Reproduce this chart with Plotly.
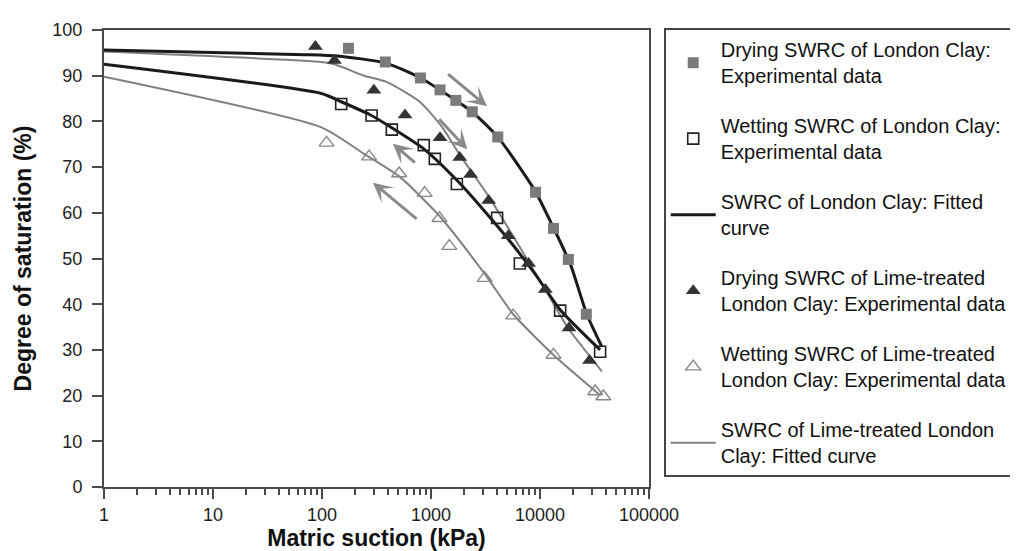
import numpy as np
import plotly.graph_objects as go

# ---------------- data ----------------
dry_lc_x = [175, 381, 800, 1210, 1690, 2390, 4100, 9100, 13300, 18200, 26600]
dry_lc_y = [96.0, 93.0, 89.5, 86.9, 84.6, 82.1, 76.6, 64.5, 56.6, 49.8, 37.8]

wet_lc_x = [150, 285, 437, 858, 1084, 1727, 4040, 6530, 15300, 35600]
wet_lc_y = [83.8, 81.3, 78.2, 74.8, 71.8, 66.3, 58.9, 48.9, 38.6, 29.6]

dry_lime_x = [87, 130, 299, 578, 1210, 1835, 2306, 3380, 5120, 7860, 11190, 18440, 28500]
dry_lime_y = [96.4, 93.3, 86.8, 81.4, 76.4, 72.1, 68.4, 62.7, 55.0, 48.9, 43.2, 34.8, 27.7]

wet_lime_x = [110, 270, 510, 875, 1196, 1473, 3110, 5680, 13300, 32100, 38100]
wet_lime_y = [75.3, 72.3, 68.6, 64.3, 58.8, 52.7, 45.7, 37.5, 28.9, 20.9, 19.8]

fit_dry_lc_x = [1, 70, 138, 381, 788, 1690, 2390, 4160, 8900, 13500, 19100, 26900, 36900]
fit_dry_lc_y = [95.6, 94.6, 94.3, 92.8, 89.6, 84.6, 82.1, 76.4, 65.0, 56.4, 48.6, 37.8, 30.7]

fit_wet_lc_x = [1, 99, 150, 279, 437, 858, 1750, 2940, 5120, 8900, 15300, 35600]
fit_wet_lc_y = [92.5, 86.1, 84.3, 81.4, 78.6, 74.0, 67.0, 61.0, 54.2, 46.8, 38.8, 30.0]

fit_dry_lime_x = [1, 99, 130, 244, 394, 788, 1280, 1811, 3380, 5870, 8900, 11190, 17800, 36900]
fit_dry_lime_y = [95.3, 93.0, 92.5, 90.0, 88.6, 84.3, 78.6, 72.9, 63.6, 54.3, 47.1, 43.2, 35.0, 25.3]

fit_wet_lime_x = [1, 99, 243, 520, 1196, 3160, 5680, 13300, 35600]
fit_wet_lime_y = [89.8, 78.7, 72.9, 67.8, 59.3, 46.4, 37.8, 28.9, 20.1]

# arrows: (start x, start y, end x, end y) — arrowhead at the end
arrows = [
    (1390, 90.6, 3265, 83.3),
    (1154, 80.8, 2153, 73.9),
    (735, 70.7, 447, 75.1),
    (762, 58.4, 293, 66.6),
]

x_tick_vals = [1, 10, 100, 1000, 10000, 100000]
x_tick_text = ["1", "10", "100", "1000", "10000", "100000"]
y_tick_vals = [0, 10, 20, 30, 40, 50, 60, 70, 80, 90, 100]

names = [
    "Drying SWRC of London Clay:<br>Experimental data",
    "Wetting SWRC of London Clay:<br>Experimental data",
    "SWRC of London Clay: Fitted<br>curve",
    "Drying SWRC of Lime-treated<br>London Clay: Experimental data",
    "Wetting SWRC of Lime-treated<br>London Clay: Experimental data",
    "SWRC of Lime-treated London<br>Clay: Fitted curve",
]

GRAY = "#808080"
DARK = "#1a1a1a"
AX = "#4a4a4a"

fig = go.Figure()

# fitted curves (drawn first, below markers)
fig.add_trace(go.Scatter(x=fit_dry_lime_x, y=fit_dry_lime_y, mode="lines",
                         line=dict(color=GRAY, width=2, shape="spline", smoothing=0.6),
                         name=names[5], legendgroup="g6", legendrank=6))
fig.add_trace(go.Scatter(x=fit_wet_lime_x, y=fit_wet_lime_y, mode="lines",
                         line=dict(color=GRAY, width=2, shape="spline", smoothing=0.6),
                         name=names[5], legendgroup="g6", showlegend=False))
fig.add_trace(go.Scatter(x=fit_dry_lc_x, y=fit_dry_lc_y, mode="lines",
                         line=dict(color=DARK, width=3, shape="spline", smoothing=0.6),
                         name=names[2], legendgroup="g3", legendrank=3))
fig.add_trace(go.Scatter(x=fit_wet_lc_x, y=fit_wet_lc_y, mode="lines",
                         line=dict(color=DARK, width=3, shape="spline", smoothing=0.6),
                         name=names[2], legendgroup="g3", showlegend=False))

# experimental data
fig.add_trace(go.Scatter(x=dry_lc_x, y=dry_lc_y, mode="markers",
                         marker=dict(symbol="square", size=11, color="#7a7a7a",
                                     line=dict(width=0)),
                         name=names[0], legendgroup="g1", legendrank=1))
fig.add_trace(go.Scatter(x=wet_lc_x, y=wet_lc_y, mode="markers",
                         marker=dict(symbol="square-open", size=11, color="#222222",
                                     line=dict(width=1.6)),
                         name=names[1], legendgroup="g2", legendrank=2))
fig.add_trace(go.Scatter(x=dry_lime_x, y=dry_lime_y, mode="markers",
                         marker=dict(symbol="triangle-up", size=13, color="#333333",
                                     line=dict(width=0)),
                         name=names[3], legendgroup="g4", legendrank=4))
fig.add_trace(go.Scatter(x=wet_lime_x, y=wet_lime_y, mode="markers",
                         marker=dict(symbol="triangle-up-open", size=13, color="#888888",
                                     line=dict(width=1.4)),
                         name=names[4], legendgroup="g5", legendrank=5))

for (sx, sy, ex, ey) in arrows:
    fig.add_annotation(x=np.log10(ex), y=ey, ax=np.log10(sx), ay=sy,
                       xref="x", yref="y", axref="x", ayref="y",
                       text="", showarrow=True, arrowhead=3, arrowsize=1.1,
                       arrowwidth=3, arrowcolor="#8a8a8a")

fig.update_layout(
    width=1018, height=551,
    margin=dict(l=96, r=369, t=17, b=68),
    plot_bgcolor="white", paper_bgcolor="white",
    font=dict(family="Liberation Sans, Arial, sans-serif", color="#222222"),
    showlegend=True,
    legend=dict(x=1.027, y=1.004, xanchor="left", yanchor="top",
                bordercolor="#444444", borderwidth=2, bgcolor="white",
                font=dict(size=20, color="#111111"),
                tracegroupgap=21, itemwidth=45, traceorder="grouped",
                maxheight=530),
)

fig.update_xaxes(
    type="log", range=[0, 5],
    tickmode="array", tickvals=x_tick_vals, ticktext=x_tick_text,
    ticks="outside", ticklen=10, tickwidth=1.5, tickcolor=AX,
    tickfont=dict(size=18, color="#222222"),
    showline=True, linecolor=AX, linewidth=2, mirror=True,
    showgrid=False, zeroline=False,
    minor=dict(ticks="outside", ticklen=6, tickwidth=1.5, tickcolor=AX,
               dtick="D1", showgrid=False),
    title=dict(text="<b>Matric suction (kPa)</b>", font=dict(size=23, color="#111111"),
               standoff=6),
)
fig.update_yaxes(
    range=[0, 100], tickmode="array", tickvals=y_tick_vals,
    ticks="outside", ticklen=10, tickwidth=1.5, tickcolor=AX,
    tickfont=dict(size=18, color="#222222"), ticklabelstandoff=6,
    showline=True, linecolor=AX, linewidth=2, mirror=True,
    showgrid=False, zeroline=False,
    title=dict(text="<b>Degree of saturation (%)</b>", font=dict(size=23, color="#111111"),
               standoff=14),
)

fig.write_html("out.html")
